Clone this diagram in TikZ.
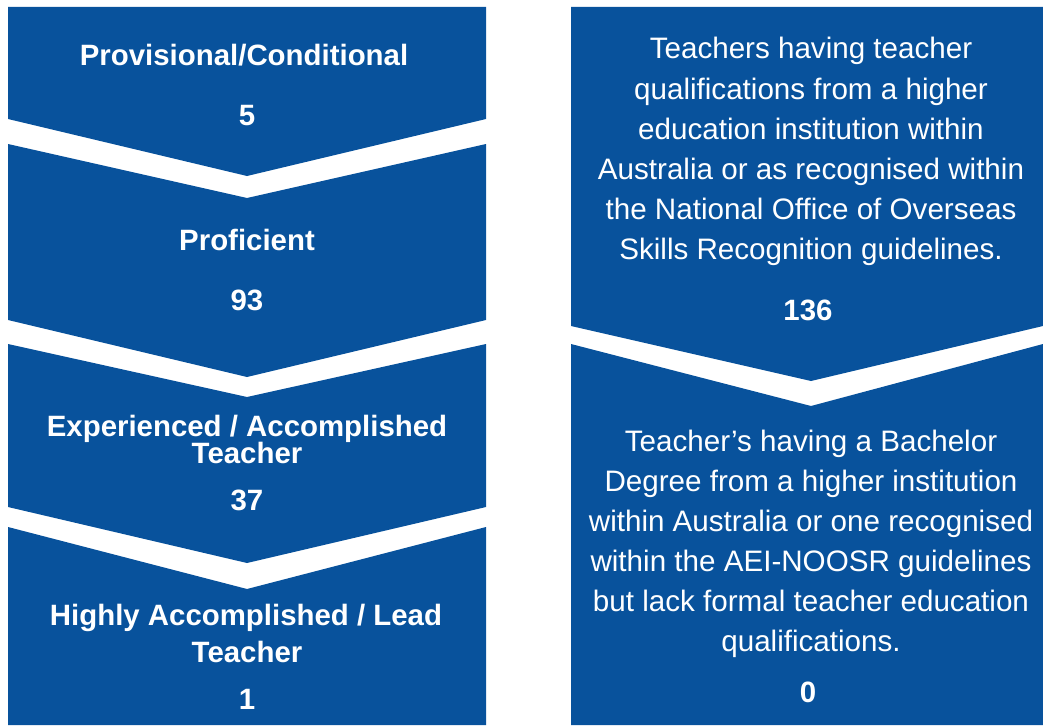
\documentclass[tikz,border=0pt]{standalone}
\usepackage{fontspec}
\setmainfont{Liberation Sans}
\definecolor{stepblue}{RGB}{8,82,156}
\begin{document}
\begin{tikzpicture}[x=1pt,y=-1pt,
  band/.style={fill=stepblue},
  lbl/.style={text=white,anchor=base,inner sep=0pt,font=\fontsize{29.4}{34}\selectfont\bfseries},
  txt/.style={text=white,anchor=base,inner sep=0pt,font=\fontsize{29.6}{34}\selectfont}]
\useasboundingbox (0,0) rectangle (1043,725);
% left column
\fill[band] (8,7) -- (486,7) -- (486,119) -- (247,176) -- (8,119) -- cycle;
\fill[band] (8,144) -- (247,198) -- (486,144) -- (486,320) -- (247,377) -- (8,320) -- cycle;
\fill[band] (8,344) -- (247,397) -- (486,344) -- (486,507) -- (247,563) -- (8,507) -- cycle;
\fill[band] (8,527) -- (247,589) -- (486,527) -- (486,725) -- (8,725) -- cycle;
% right column
\fill[band] (571,7) -- (1043,7) -- (1043,326) -- (811,381) -- (571,326) -- cycle;
\fill[band] (571,344) -- (811,406) -- (1043,344) -- (1043,725) -- (571,725) -- cycle;
% left labels
\node[lbl] (l1a) at (244,65) {Provisional/Conditional};
\node[lbl] (l1b) at (247,125) {5};
\node[lbl] (l2a) at (247,250) {Proficient};
\node[lbl] (l2b) at (247,310) {93};
\node[lbl] (l3a) at (247,436) {Experienced / Accomplished};
\node[lbl] (l3c) at (247,463) {Teacher};
\node[lbl] (l3b) at (247,510) {37};
\node[lbl] (l4a) at (246,625) {Highly Accomplished / Lead};
\node[lbl] (l4c) at (247,662) {Teacher};
\node[lbl] (l4b) at (247,709) {1};
% right text 1
\node[txt] (r1a) at (811,59) {Teachers having teacher};
\node[txt] (r1b) at (811,99) {qualifications from a higher};
\node[txt] (r1c) at (811,139) {education institution within};
\node[txt] (r1d) at (811,179) {Australia or as recognised within};
\node[txt] (r1e) at (811,219) {the National Office of Overseas};
\node[txt] (r1f) at (811,259) {Skills Recognition guidelines.};
\node[lbl] (r1n) at (808,320) {136};
% right text 2
\node[txt] (r2a) at (811,451) {Teacher’s having a Bachelor};
\node[txt] (r2b) at (811,491) {Degree from a higher institution};
\node[txt] (r2c) at (811,531) {within Australia or one recognised};
\node[txt] (r2d) at (811,571) {within the AEI-NOOSR guidelines};
\node[txt] (r2e) at (811,611) {but lack formal teacher education};
\node[txt] (r2f) at (811,651) {qualifications.};
\node[lbl] (r2n) at (808,702) {0};
\end{tikzpicture}
\end{document}
